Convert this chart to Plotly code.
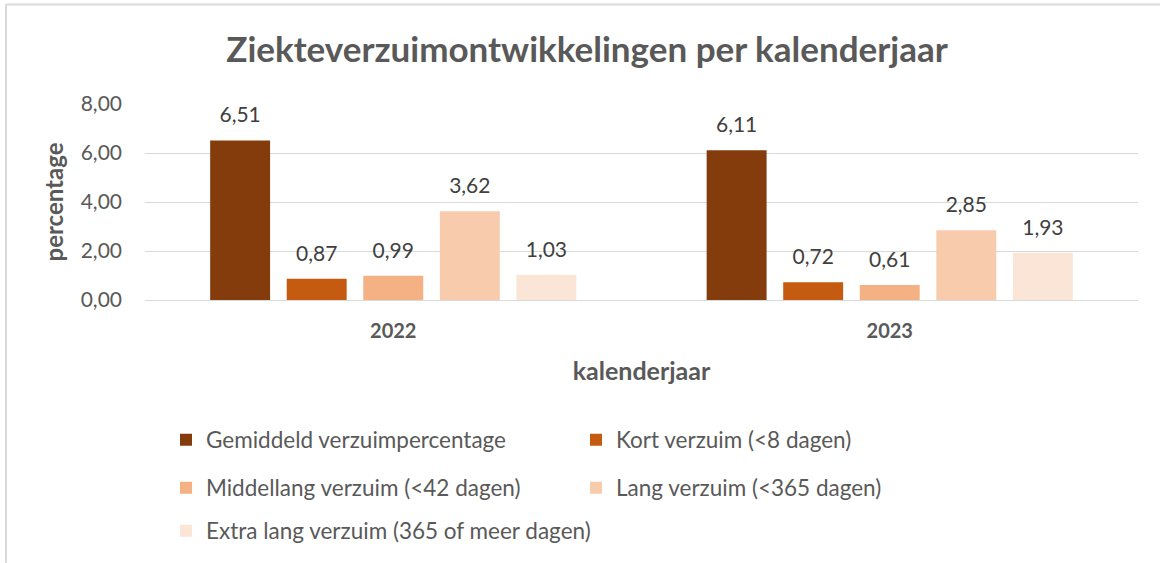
import plotly.graph_objects as go

years = ["2022", "2023"]
series_names = [
    "Gemiddeld verzuimpercentage",
    "Kort verzuim (<8 dagen)",
    "Middellang verzuim (<42 dagen)",
    "Lang verzuim (<365 dagen)",
    "Extra lang verzuim (365 of meer dagen)",
]
gemiddeld = [6.51, 6.11]
kort = [0.87, 0.72]
middellang = [0.99, 0.61]
lang = [3.62, 2.85]
extra_lang = [1.03, 1.93]
series_values = [gemiddeld, kort, middellang, lang, extra_lang]
colors = ["#843C0C", "#C55A11", "#F4B183", "#F8CBAD", "#FBE5D6"]
legend_ids = ["legend", "legend", "legend2", "legend2", "legend3"]

FONT = "Lato"
GREY = "#595959"

W, H = 1160, 563
ml, mr, mt, mb = 145, 22, 104, 262
ph = H - mt - mb
pw = W - ml - mr
GAP = 0.229

fig = go.Figure()
for i, (name, vals, col, lg) in enumerate(zip(series_names, series_values, colors, legend_ids)):
    fig.add_trace(go.Bar(
        x=years, y=vals, name=name, marker_color=col, marker_line_width=0,
        offsetgroup=str(i), legend=lg, hoverinfo="x+y+name",
    ))
# data labels, grouped like the bars
for i, vals in enumerate(series_values):
    fig.add_trace(go.Scatter(
        x=years, y=vals, mode="markers+text", offsetgroup=str(i),
        marker=dict(size=19, opacity=0, color="white"),
        texttemplate="%{y:.2f}", textposition="top center",
        textfont=dict(family=FONT, size=21, color="#404040"),
        cliponaxis=False, showlegend=False, hoverinfo="skip",
    ))

def py(pix):
    return (H - mb - pix) / ph

def px(pix):
    return (pix - ml) / pw

leg_font = dict(family=FONT, size=22.5, color=GREY)
leg_common = dict(orientation="h", entrywidth=365, entrywidthmode="pixels",
                  font=leg_font, xanchor="left", yanchor="middle",
                  bgcolor="rgba(0,0,0,0)")

fig.update_layout(
    width=W, height=H,
    margin=dict(l=ml, r=mr, t=mt, b=mb),
    paper_bgcolor="white", plot_bgcolor="white",
    separators=",.",
    barmode="group", bargap=GAP, bargroupgap=0.217,
    scattermode="group", scattergap=GAP,
    title=dict(text="<b>Ziekteverzuimontwikkelingen per kalenderjaar</b>",
               x=px(587), xref="paper", xanchor="center",
               y=1 - 50 / H, yanchor="middle",
               font=dict(family=FONT, size=35, color=GREY)),
    legend=dict(x=px(166), y=py(440), **leg_common),
    legend2=dict(x=px(166), y=py(488), **leg_common),
    legend3=dict(x=px(166), y=py(531), orientation="h", font=leg_font,
                 xanchor="left", yanchor="middle", bgcolor="rgba(0,0,0,0)"),
    showlegend=True,
)
fig.update_yaxes(range=[0, 8], dtick=2, tickformat=".2f",
                 showgrid=True, gridcolor="#d9d9d9", gridwidth=1,
                 zeroline=True, zerolinecolor="#d9d9d9", zerolinewidth=1,
                 showline=False, ticks="", ticklabelstandoff=22,
                 tickfont=dict(family=FONT, size=21, color=GREY),
                 title=dict(text="<b>percentage</b>", standoff=10,
                            font=dict(family=FONT, size=24, color=GREY)))
fig.update_xaxes(showline=True, linecolor="#d9d9d9", linewidth=1,
                 ticks="", ticklabelstandoff=13,
                 tickfont=dict(family=FONT, size=20, color=GREY),
                 tickprefix="<b>", ticksuffix="</b>",
                 title=dict(text="<b>kalenderjaar</b>", standoff=21,
                            font=dict(family=FONT, size=25, color=GREY)))

# outer chart border (left and top edges visible)
fig.add_shape(type="line", xref="paper", yref="paper",
              x0=px(6), x1=px(1162), y0=py(4), y1=py(4),
              line=dict(color="#d9d9d9", width=2))
fig.add_shape(type="line", xref="paper", yref="paper",
              x0=px(6), x1=px(6), y0=py(4), y1=py(565),
              line=dict(color="#d9d9d9", width=2))

fig.write_html("out.html", config={"displayModeBar": False},
               post_script="document.body.style.margin='0px';")
